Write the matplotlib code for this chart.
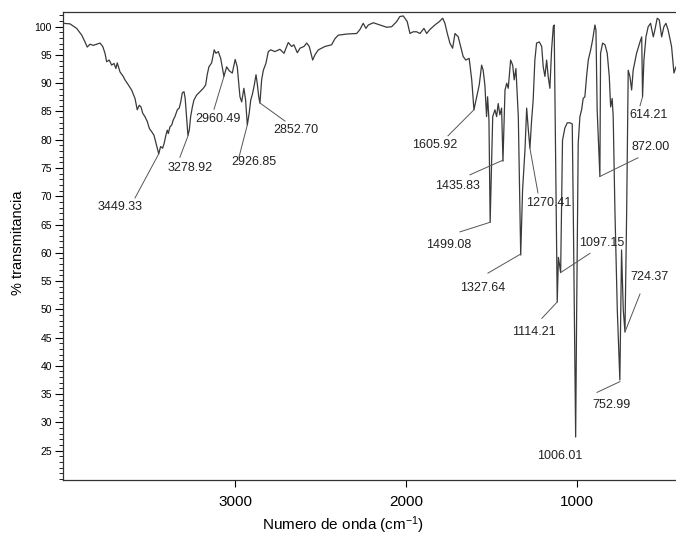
import numpy as np
import matplotlib
matplotlib.use("Agg")
import matplotlib.pyplot as plt
from matplotlib.ticker import MultipleLocator

plt.rcParams['font.family'] = ['Liberation Sans', 'DejaVu Sans']
plt.rcParams['mathtext.fontset'] = 'custom'
plt.rcParams['mathtext.rm'] = 'Liberation Sans'
plt.rcParams['mathtext.it'] = 'Liberation Sans'

# === Spectrum ===
wavenumber = [4010, 3969, 3930, 3900, 3881, 3868, 3852, 3833, 3813, 3793,
              3777, 3764, 3754, 3739, 3725, 3711, 3700, 3692, 3676, 3657,
              3647, 3627, 3608, 3588, 3575, 3563, 3553, 3543, 3530, 3516,
              3504, 3490, 3477, 3467, 3455, 3449, 3438, 3426, 3417, 3407,
              3399, 3393, 3383, 3373, 3364, 3354, 3340, 3329, 3320, 3311,
              3301, 3294, 3285, 3278, 3270, 3262, 3252, 3243, 3227, 3207,
              3188, 3174, 3165, 3155, 3139, 3124, 3114, 3100, 3086, 3067,
              3051, 3036, 3018, 3001, 2989, 2973, 2963, 2950, 2940, 2930,
              2919, 2910, 2899, 2889, 2879, 2872, 2863, 2856, 2846, 2836,
              2821, 2807, 2793, 2768, 2739, 2715, 2690, 2670, 2657, 2637,
              2621, 2598, 2582, 2567, 2547, 2534, 2514, 2475, 2436, 2416,
              2397, 2348, 2289, 2270, 2251, 2235, 2221, 2192, 2153, 2113,
              2084, 2055, 2036, 2016, 1993, 1977, 1958, 1938, 1918, 1895,
              1879, 1860, 1831, 1805, 1785, 1772, 1758, 1743, 1727, 1713,
              1694, 1680, 1665, 1649, 1630, 1615, 1602, 1586, 1571, 1557,
              1548, 1538, 1528, 1522, 1514, 1507, 1492, 1479, 1469, 1460,
              1450, 1440, 1432, 1420, 1410, 1401, 1387, 1375, 1366, 1356,
              1342, 1328, 1317, 1303, 1293, 1284, 1274, 1264, 1255, 1245,
              1235, 1219, 1205, 1196, 1186, 1176, 1167, 1157, 1147, 1137,
              1132, 1114, 1107, 1094, 1083, 1069, 1055, 1040, 1026, 1020,
              1006, 1000, 991, 981, 971, 962, 952, 942, 932, 918,
              907, 893, 887, 880, 864, 860, 848, 834, 821, 809,
              801, 792, 786, 776, 762, 747, 737, 727, 717, 707,
              698, 688, 678, 669, 649, 629, 619, 614, 606, 594,
              581, 567, 551, 542, 528, 516, 502, 489, 477, 464,
              444, 430, 418]
transmittance = [100.6, 100.5, 99.7, 98.5, 97.3, 96.4, 96.9, 96.7, 96.9, 97.1,
                 96.5, 95.3, 93.8, 94.1, 93.2, 93.5, 92.6, 93.6, 92.0, 91.2,
                 90.6, 89.7, 88.8, 87.3, 85.3, 86.1, 85.8, 84.7, 84.1, 83.2,
                 82.0, 81.4, 80.8, 79.6, 78.2, 77.5, 78.8, 78.5, 79.4, 80.8,
                 81.7, 81.1, 82.3, 82.6, 83.5, 84.1, 85.3, 85.6, 86.7, 88.3,
                 88.5, 87.3, 83.5, 80.8, 81.7, 84.1, 85.8, 87.0, 87.9, 88.5,
                 89.1, 89.7, 91.5, 92.9, 93.6, 95.9, 95.3, 95.6, 94.4, 91.2,
                 92.9, 92.2, 91.8, 94.2, 92.9, 87.6, 86.7, 89.1, 87.0, 82.6,
                 84.7, 87.0, 88.2, 89.7, 91.5, 90.0, 87.6, 86.5, 90.6, 92.3,
                 93.5, 95.6, 95.9, 95.6, 96.0, 95.3, 97.2, 96.5, 96.8, 95.4,
                 96.2, 96.5, 97.1, 96.5, 94.1, 95.0, 95.9, 96.5, 96.8, 97.9,
                 98.5, 98.7, 98.8, 99.5, 100.6, 99.7, 100.3, 100.7, 100.3, 99.9,
                 100.0, 100.9, 101.8, 101.9, 100.9, 98.8, 99.1, 99.1, 98.8, 99.7,
                 98.8, 99.5, 100.3, 100.9, 101.5, 100.6, 98.8, 97.1, 96.2, 98.8,
                 98.2, 96.5, 94.7, 94.1, 94.4, 90.6, 85.3, 87.6, 89.7, 93.2,
                 92.3, 89.7, 84.1, 87.6, 83.5, 65.4, 84.1, 85.3, 84.1, 86.4,
                 84.4, 85.6, 76.2, 88.8, 90.0, 89.1, 94.1, 93.2, 90.6, 92.6,
                 84.1, 59.6, 71.1, 78.2, 85.6, 82.0, 78.5, 83.5, 87.0, 94.1,
                 97.1, 97.3, 96.5, 92.9, 91.2, 94.1, 91.2, 89.1, 95.9, 100.0,
                 100.3, 51.3, 59.2, 56.5, 79.9, 82.1, 83.0, 83.0, 82.8, 67.6,
                 27.4, 49.9, 79.4, 84.1, 85.3, 87.3, 87.6, 91.2, 94.1, 95.9,
                 97.6, 100.3, 99.4, 85.3, 73.5, 95.3, 97.1, 96.8, 95.3, 91.2,
                 85.8, 87.3, 84.1, 67.6, 49.9, 37.5, 60.5, 49.9, 46.0, 67.6,
                 92.3, 91.2, 88.8, 92.3, 95.3, 97.3, 98.2, 87.6, 94.1, 98.2,
                 100.0, 100.6, 98.2, 99.4, 101.5, 101.2, 98.2, 100.0, 100.6, 99.4,
                 96.5, 91.8, 92.9]

# === Peak labels ===
peak_labels = ["3449.33", "3278.92", "2960.49", "2926.85", "2852.70",
               "1605.92", "1435.83", "1499.08", "1270.41", "1327.64",
               "1097.15", "1114.21", "1006.01", "872.00", "614.21",
               "752.99", "724.37"]

# (text x, text y, line start x, line start y, tip x, tip y) in data units
label_layout = [
    (3676, 68.1, 3588, 69.7, 3449, 77.5),
    (3266, 75.0, 3325, 76.9, 3276, 80.8),
    (3102, 83.7, 3125, 85.4, 3067, 91.2),
    (2891, 76.1, 2979, 76.9, 2930, 82.6),
    (2645, 81.7, 2709, 83.3, 2856, 86.5),
    (1831, 79.1, 1754, 80.7, 1602, 85.3),
    (1696, 71.8, 1625, 73.8, 1431, 76.4),
    (1748, 61.4, 1684, 63.7, 1507, 65.4),
    (1163, 68.8, 1227, 70.6, 1274, 78.5),
    (1549, 53.8, 1520, 56.4, 1327, 59.8),
    (852, 61.7, 922, 59.9, 1094, 56.5),
    (1250, 46.0, 1204, 48.4, 1114, 51.3),
    (1098, 24.0, None, None, None, None),
    (565, 78.7, 641, 76.8, 864, 73.5),
    (577, 84.4, 629, 86.0, 614, 87.6),
    (799, 33.0, 881, 35.3, 747, 37.2),
    (571, 55.7, 629, 52.7, 717, 46.0),
]

fig = plt.figure(figsize=(6.76, 5.44), dpi=100)
ax = fig.add_axes([63 / 676, 64 / 544, 613 / 676, 468 / 544])

ax.plot(wavenumber, transmittance, color="#3a3a3a", linewidth=0.9)

for txt, (tx, ty, lx, ly, px, py) in zip(peak_labels, label_layout):
    if lx is not None:
        ax.plot([lx, px], [ly, py], color="#555555", linewidth=0.7)
    ax.text(tx, ty, txt, fontsize=9, ha="center", va="center", color="#222222")

ax.set_xlim(4010, 418)
ax.set_ylim(19.8, 102.6)

ax.set_xticks([3000, 2000, 1000])
ax.yaxis.set_major_locator(MultipleLocator(5))
ax.yaxis.set_minor_locator(MultipleLocator(1))
ax.set_yticks(np.arange(25, 101, 5))
ax.tick_params(axis="x", direction="out", length=5, width=0.8, labelsize=11, pad=6)
ax.tick_params(axis="y", which="major", direction="out", length=6, width=0.8, labelsize=7.5, pad=2)
ax.tick_params(axis="y", which="minor", direction="out", length=3, width=0.6)

for side in ["top", "left", "bottom"]:
    ax.spines[side].set_linewidth(0.9)
    ax.spines[side].set_color("#333333")
ax.spines["right"].set_visible(False)

fig.text(18 / 676, 1 - 243 / 544, "% transmitancia", rotation=90,
         ha="center", va="center", fontsize=10.5)
fig.text(343 / 676, 1 - 525 / 544, "Numero de onda (cm$^{-1}$)",
         ha="center", va="center", fontsize=11)

fig.savefig("out.png", dpi=100)
